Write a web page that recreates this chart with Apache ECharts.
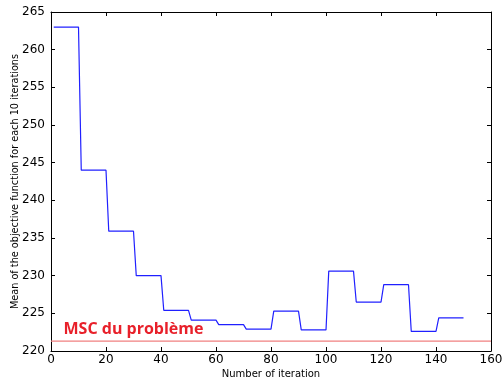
<!DOCTYPE html>
<html>
<head>
<meta charset="utf-8">
<script src="https://cdn.jsdelivr.net/npm/echarts@6/dist/echarts.min.js"></script>
<style>html,body{margin:0;padding:0;background:#fff}#c{width:502px;height:381px}</style>
</head>
<body>
<div id="c"></div>
<script>
// Block means (each block = 10 iterations)
var blockStarts = [1, 11, 21, 31, 41, 51, 61, 71, 81, 91, 101, 111, 121, 131, 141];
var blockEnds   = [10, 20, 30, 40, 50, 60, 70, 80, 90, 100, 110, 120, 130, 140, 150];
var blockMeans  = [263.0, 244.0, 235.9, 230.0, 225.4, 224.1, 223.5, 222.9, 225.3, 222.8, 230.6, 226.5, 228.8, 222.6, 224.4];
var mscValue = 221.3;
var mscLabel = 'MSC du problème';
var mscLabelPos = [30, 222.9];
var xTicks = [0, 20, 40, 60, 80, 100, 120, 140, 160];
var yTicks = [220, 225, 230, 235, 240, 245, 250, 255, 260, 265];

var lineData = [];
for (var i = 0; i < blockMeans.length; i++) {
  lineData.push([blockStarts[i], blockMeans[i]]);
  lineData.push([blockEnds[i], blockMeans[i]]);
}
var xMin = xTicks[0], xMax = xTicks[xTicks.length - 1];
var mscData = [[xMin, mscValue], [xMax, mscValue]];

var chart = echarts.init(document.getElementById('c'), null, {renderer: 'canvas'});
var font = 'DejaVu Sans';
var axisCommon = {
  axisLine: {show: true, onZero: false, lineStyle: {color: '#000', width: 1}},
  axisTick: {show: true, inside: true, length: 4, lineStyle: {color: '#000'}},
  splitLine: {show: false}
};
chart.setOption({
  animation: false,
  backgroundColor: '#fff',
  grid: {left: 51, right: 11, top: 12, bottom: 30, show: false, containLabel: false, outerBoundsMode: 'none'},
  xAxis: [
    Object.assign({
      type: 'value', min: xMin, max: xMax, interval: 20,
      name: 'Number of iteration', nameLocation: 'middle', nameGap: 18, nameMoveOverlap: false,
      nameTextStyle: {fontFamily: font, fontSize: 10, color: '#000'},
      axisLabel: {fontFamily: font, fontSize: 12, color: '#000', margin: 3}
    }, axisCommon),
    Object.assign({
      type: 'value', position: 'top', min: xMin, max: xMax, interval: 20,
      axisLabel: {show: false}
    }, axisCommon)
  ],
  yAxis: [
    Object.assign({
      type: 'value', min: yTicks[0], max: yTicks[yTicks.length-1], interval: 5,
      name: 'Mean of the objective function for each 10 iterations', nameLocation: 'middle', nameGap: 31, nameMoveOverlap: false,
      nameTextStyle: {fontFamily: font, fontSize: 9.7, color: '#000'},
      axisLabel: {fontFamily: font, fontSize: 12, color: '#000', margin: 6}
    }, axisCommon),
    Object.assign({
      type: 'value', position: 'right', min: yTicks[0], max: yTicks[yTicks.length-1], interval: 5,
      axisLabel: {show: false}
    }, axisCommon)
  ],
  series: [
    {
      type: 'line', data: mscData, symbol: 'none', silent: true,
      lineStyle: {color: '#f08080', width: 1.2}
    },
    {
      type: 'line', data: lineData, symbol: 'none',
      lineStyle: {color: '#2020ff', width: 1.2}
    },
    {
      type: 'scatter', data: [mscLabelPos], symbolSize: 0, silent: true,
      itemStyle: {opacity: 1, color: '#e8202a'},
      label: {show: true, position: 'inside', formatter: mscLabel,
        fontFamily: 'Open Sans', fontWeight: 'bold', fontSize: 16, color: '#e8202a'}
    }
  ]
});
</script>
</body>
</html>
